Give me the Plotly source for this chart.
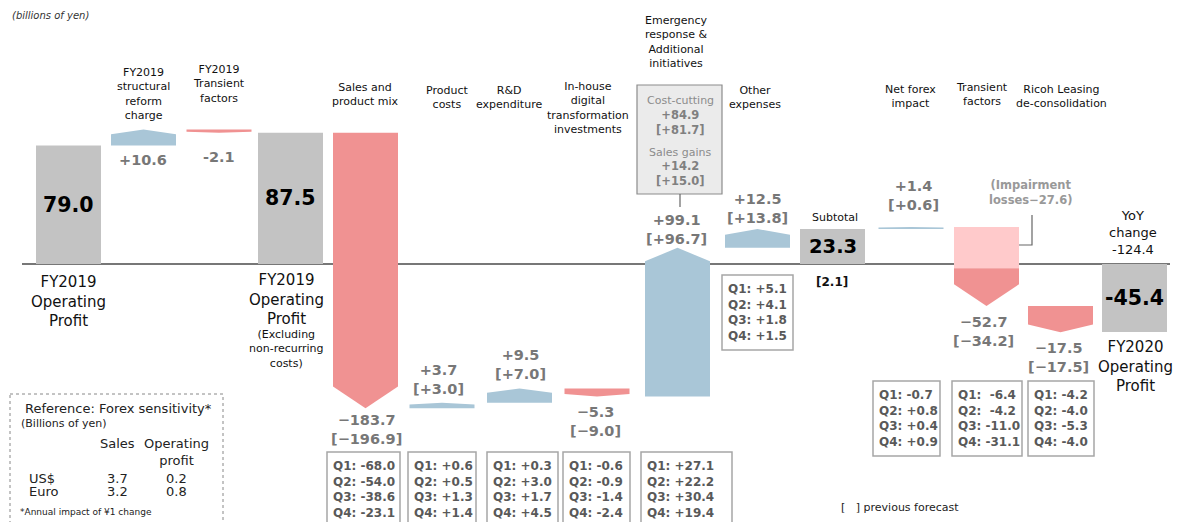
import plotly.graph_objects as go

W, H = 1177, 522

# ---- data -------------------------------------------------------------
categories = [
    "FY2019<br>Operating<br>Profit",
    "FY2019<br>structural<br>reform<br>charge",
    "FY2019<br>Transient<br>factors",
    "FY2019<br>Operating<br>Profit",
    "Sales and<br>product mix",
    "Product<br>costs",
    "R&amp;D<br>expenditure",
    "In-house<br>digital<br>transformation<br>investments",
    "Emergency<br>response &amp;<br>Additional<br>initiatives",
    "Other<br>expenses",
    "Subtotal",
    "Net forex<br>impact",
    "Transient<br>factors",
    "Ricoh Leasing<br>de-consolidation",
    "FY2020<br>Operating<br>Profit",
]
values = [79.0, 10.6, -2.1, 87.5, -183.7, 3.7, 9.5, -5.3, 99.1, 12.5, 23.3, 1.4, -52.7, -17.5, -45.4]
is_total = [True, False, False, True, False, False, False, False, False, False, True, False, False, False, True]
prev_forecast = [None, None, None, None, -196.9, 3.0, 7.0, -9.0, 96.7, 13.8, 2.1, 0.6, -34.2, -17.5, None]
impairment_losses = -27.6          # included in "Transient factors" (index 12)
cost_cutting = (84.9, 81.7)        # actual, previous forecast
sales_gains = (14.2, 15.0)
yoy_change = -124.4
quarters = {
    4: [-68.0, -54.0, -38.6, -23.1],
    5: [0.6, 0.5, 1.3, 1.4],
    6: [0.3, 3.0, 1.7, 4.5],
    7: [-0.6, -0.9, -1.4, -2.4],
    8: [27.1, 22.2, 30.4, 19.4],
    9: [5.1, 4.1, 1.8, 1.5],
    11: [-0.7, 0.8, 0.4, 0.9],
    12: [-6.4, -4.2, -11.0, -31.1],
    13: [-4.2, -4.0, -5.3, -4.0],
}
fx_currencies = ["US$", "Euro"]
fx_sales = [3.7, 3.2]
fx_profit = [0.2, 0.8]

# ---- layout / style ---------------------------------------------------
# horizontal slot (centre, in px along the x axis) of each category column
slot = [68.5, 143.5, 219, 290.5, 365.5, 442, 519.5, 597, 677.5, 757.5, 832.5, 911, 986.5, 1060.5, 1134.5]
BAR_W = 65
GREY = "#c3c3c3"
BLUE = "#a9c6d7"
PINK = "#f09292"
LIGHT_PINK = "#ffcacb"
LABEL_GREY = "#777777"
FONT = "DejaVu Sans"


def px(x):
    return x / W


def py(y):
    return 1 - y / H


def signed(v, minus="\u2212"):
    if v > 0:
        return f"+{v:.1f}"
    if v < 0:
        return f"{minus}{abs(v):.1f}"
    return f"{v:.1f}"


fig = go.Figure()

# grey totals
tot_idx = [i for i, t in enumerate(is_total) if t]
fig.add_trace(go.Bar(
    x=[slot[i] for i in tot_idx], y=[values[i] for i in tot_idx], width=BAR_W,
    marker=dict(color=GREY, line=dict(width=0)), hoverinfo="skip",
))


def arrow(i, y0, y1, color, tip):
    up = y1 > y0
    t = tip if up else -tip
    xc = slot[i]
    xl, xr = xc - BAR_W / 2, xc + BAR_W / 2
    fig.add_trace(go.Scatter(
        x=[xl, xr, xr, xc, xl, xl],
        y=[y0, y0, y1 - t, y1, y1 - t, y0],
        mode="lines", fill="toself", fillcolor=color,
        line=dict(width=0, color=color), hoverinfo="skip",
    ))


def rect(i, y0, y1, color):
    xl, xr = slot[i] - BAR_W / 2, slot[i] + BAR_W / 2
    fig.add_trace(go.Scatter(
        x=[xl, xr, xr, xl, xl], y=[y0, y0, y1, y1, y0],
        mode="lines", fill="toself", fillcolor=color,
        line=dict(width=0, color=color), hoverinfo="skip",
    ))


# floating change arrows
level = 0.0
for i, (v, tot) in enumerate(zip(values, is_total)):
    if tot:
        level = v
        continue
    start, end = level, level + v
    tip = min(abs(v) * 0.3, 9.0 if v > 0 else 14.5)
    if i == 12:
        split = start + impairment_losses
        rect(i, start, split, LIGHT_PINK)
        arrow(i, split, end, PINK, tip)
    else:
        arrow(i, start, end, BLUE if v > 0 else PINK, tip)
    level = end

ann = []


def note(text, x, y, size, color="#000000", xanchor="center", align="center", xref="paper", yref="paper"):
    ann.append(dict(
        text=text, x=x, y=y, xref=xref, yref=yref, xanchor=xanchor, yanchor="middle",
        align=align, showarrow=False, font=dict(family=FONT, size=size, color=color),
    ))


note("<i>(billions of yen)</i>", px(10), py(15), 10, "#333333", xanchor="left")

# category headings above the bars
top_pos = {1: (143, 93.5), 2: (219, 84), 4: (365, 95), 5: (447, 97.5), 6: (509, 97.5),
           7: (588, 108.5), 8: (676, 41.5), 9: (755, 97.5), 10: (835, 218),
           11: (910, 96), 12: (982, 95), 13: (1061, 96.5)}
for i, (x, y) in top_pos.items():
    note(categories[i], px(x), py(y), 11, "#111111")

# names of the totals below the axis
note(categories[0], px(68), py(301.5), 15, "#111111")
note(categories[3], px(286), py(299.5), 15, "#111111")
note("(Excluding<br>non-recurring<br>costs)", px(286), py(349), 11, "#111111")
note(categories[14], px(1135), py(366), 15, "#111111")
note(f"YoY<br>change<br>{yoy_change:.1f}", px(1133), py(232), 13, "#111111")

# totals inside the grey bars
for i in tot_idx:
    note(f"<b>{values[i]:.1f}</b>", slot[i], values[i] / 2, 20.5 if i != 10 else 19.5,
         "#000000", xref="x", yref="y")
note(f"<b>[{prev_forecast[10]:.1f}]</b>", px(832), py(282), 12, "#111111")

# change values with previous forecast
val_pos = {1: (143, 160), 2: (219, 157), 4: (366, 429), 5: (438, 379), 6: (520, 364),
           7: (595, 421), 8: (676, 229.5), 9: (757, 208), 11: (913, 195.5),
           12: (983, 331), 13: (1058, 357.5)}
for i, (x, y) in val_pos.items():
    if prev_forecast[i] is None:
        txt = f"<b>{signed(values[i], '-')}</b>"
    else:
        txt = f"<b>{signed(values[i])}</b><br><b>[{signed(prev_forecast[i])}]</b>"
    note(txt, px(x), py(y), 14.5, LABEL_GREY)

shapes = []

# zero axis line
shapes.append(dict(type="line", xref="paper", yref="y", x0=px(22), x1=px(1170), y0=0, y1=0,
                   line=dict(color="#777777", width=2), layer="below"))

# quarterly breakdown boxes
q_box = {4: (327, 400, 452), 5: (408, 476, 452), 6: (487, 558, 452), 7: (563, 630, 452),
         8: (641, 732, 452), 9: (722, 793, 275), 11: (873, 940, 381),
         12: (952, 1022, 381), 13: (1028, 1094, 381)}
for i, (x0, x1, y0) in q_box.items():
    qs = [signed(q, "-") for q in quarters[i]]
    width = max(len(s) for s in qs)
    lines = [f"Q{n + 1}:" + "\u00a0" * (1 + width - len(s)) + s for n, s in enumerate(qs)]
    shapes.append(dict(type="rect", xref="paper", yref="paper",
                       x0=px(x0), x1=px(x1), y0=py(y0), y1=py(y0 + 75),
                       line=dict(color="#a6a6a6", width=1.5), fillcolor="rgba(0,0,0,0)"))
    note("<b>" + "<br>".join(lines) + "</b>", px(x0 + 4), py(y0 + 37.5), 12, "#595959",
         xanchor="left", align="left")

# emergency response breakdown box
shapes.append(dict(type="rect", xref="paper", yref="paper", x0=px(637), x1=px(722),
                   y0=py(85), y1=py(194), line=dict(color="#8c8c8c", width=1.2),
                   fillcolor="#ebebeb", layer="below"))
shapes.append(dict(type="line", xref="paper", yref="paper", x0=px(680), x1=px(680),
                   y0=py(194), y1=py(207), line=dict(color="#666666", width=1.2)))
note("Cost-cutting", px(680), py(100), 11, "#8c8c8c")
note(f"<b>{signed(cost_cutting[0])}</b><br><b>[{signed(cost_cutting[1])}]</b>",
     px(680), py(122.5), 11.5, "#808080")
note("Sales gains", px(680), py(152), 11, "#8c8c8c")
note(f"<b>{signed(sales_gains[0])}</b><br><b>[{signed(sales_gains[1])}]</b>",
     px(680), py(173), 11.5, "#808080")

# impairment callout
note(f"<b>(Impairment<br>losses\u2212{abs(impairment_losses):.1f})</b>", px(1030), py(192), 11.5, "#999999")
shapes.append(dict(type="path", xref="paper", yref="paper",
                   path=f"M {px(1032)},{py(215)} L {px(1032)},{py(245)} L {px(1019)},{py(245)}",
                   line=dict(color="#666666", width=1.2)))

# forex sensitivity reference box
shapes.append(dict(type="rect", xref="paper", yref="paper", x0=px(10), x1=px(223),
                   y0=py(394), y1=py(540), line=dict(color="#888888", width=1, dash="dot"),
                   fillcolor="rgba(0,0,0,0)"))
note("Reference: Forex sensitivity*", px(23), py(408), 13, "#222222", xanchor="left")
note("(Billions of yen)", px(19), py(423), 11, "#222222", xanchor="left")
note("Sales", px(117), py(443), 13, "#222222")
note("Operating<br>profit", px(176), py(451.5), 13, "#222222")
for k, (cur, s, p) in enumerate(zip(fx_currencies, fx_sales, fx_profit)):
    yy = 478 + 13.5 * k
    note(cur, px(27), py(yy), 13, "#222222", xanchor="left")
    note(f"{s:.1f}", px(117), py(yy), 13, "#222222")
    note(f"{p:.1f}", px(176), py(yy), 13, "#222222")
note("*Annual impact of \u00a51 change", px(18), py(512), 9, "#222222", xanchor="left")

note("[\u00a0\u00a0\u00a0] previous forecast", px(839), py(507), 11, "#222222", xanchor="left")

fig.update_layout(
    width=W, height=H, margin=dict(l=0, r=0, t=0, b=0),
    paper_bgcolor="white", plot_bgcolor="white", showlegend=False,
    xaxis=dict(range=[0, W], visible=False, fixedrange=True),
    yaxis=dict(range=[-(H - 264) / 1.5, 264 / 1.5], visible=False, fixedrange=True),
    annotations=ann, shapes=shapes, font=dict(family=FONT),
)

fig.write_html("out.html")
